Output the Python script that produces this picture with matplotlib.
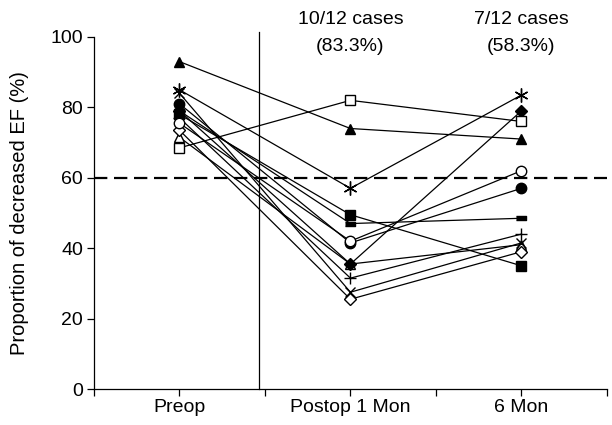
import matplotlib
matplotlib.use("Agg")
from matplotlib import pyplot as plt

plt.rcParams["font.family"] = ["Liberation Sans", "DejaVu Sans"]

# time points and one EF series per patient (Preop, Postop 1 Mon, 6 Mon)
periods = ["Preop", "Postop 1 Mon", "6 Mon"]
tri_filled = [93, 74, 71]
asterisk = [85, 57, 83.5]
sq_open = [68.5, 82, 76]
circ_filled = [81, 41.5, 57]
circ_open = [75.5, 42, 62]
sq_filled = [78, 49.5, 35]
dash_filled = [79, 47, 48.5]
diam_filled = [79, 35.5, 79]
plus = [77, 31.5, 44]
cross = [84, 27.5, 41.5]
diam_open = [73.5, 25.5, 39]
tri_open = [71.5, 35.5, 41]

threshold = 60
notes = [("10/12 cases", "(83.3%)"), ("7/12 cases", "(58.3%)")]

# marker styles: (data, marker, facecolor, size)
dash = [(-1, -0.35), (1, -0.35), (1, 0.35), (-1, 0.35)]
series = [
    (tri_open, "^", "white", 7),
    (diam_open, "D", "white", 6),
    (cross, "x", "black", 7),
    (plus, "+", "black", 9),
    (diam_filled, "D", "black", 6),
    (dash_filled, dash, "black", 7),
    (sq_filled, "s", "black", 6.5),
    (circ_filled, "o", "black", 7.5),
    (circ_open, "o", "white", 7.5),
    (sq_open, "s", "white", 6.5),
    (asterisk, (6, 2, 0), "black", 10),
    (tri_filled, "^", "black", 7.5),
]

xpos = [1, 3, 5]

fig = plt.figure(figsize=(6.12, 4.25), dpi=100)
ax = fig.add_axes([0.1536, 0.0847, 0.838, 0.8283])

for vals, m, fc, ms in series:
    ax.plot(xpos, vals, color="black", lw=0.9, marker=m, markersize=ms,
            markerfacecolor=fc, markeredgecolor="black", markeredgewidth=1.0,
            clip_on=False, zorder=3)

ax.axhline(threshold, color="black", lw=1.6, dashes=(6, 3), zorder=2)
ax.plot([1.93, 1.93], [0, 101.5], color="black", lw=0.9, clip_on=False)

ax.set_xlim(0, 6)
ax.set_ylim(0, 100)
ax.set_xticks(range(7))
ax.set_xticklabels(["", periods[0], "", periods[1], "", periods[2], ""])
ax.set_yticks(range(0, 101, 20))
ax.tick_params(axis="both", direction="out", length=5, width=0.9, labelsize=14,
               colors="black")
ax.tick_params(axis="x", pad=2)
ax.tick_params(axis="y", pad=3)
for side in ["top", "right"]:
    ax.spines[side].set_visible(False)
for side in ["left", "bottom"]:
    ax.spines[side].set_linewidth(0.9)

ax.set_ylabel("Proportion of decreased EF (%)", fontsize=14.5, labelpad=15)

for x, (l1, l2) in zip([3, 5], notes):
    ax.text(x, 105.1, l1, ha="center", va="center", fontsize=14)
    ax.text(x, 97.2, l2, ha="center", va="center", fontsize=14)

fig.savefig("out.png", dpi=100)
